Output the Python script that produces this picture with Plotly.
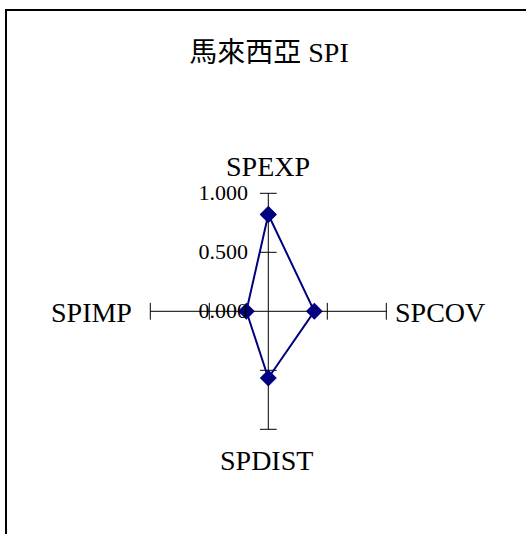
import plotly.graph_objects as go

categories = ["SPEXP", "SPCOV", "SPDIST", "SPIMP"]
values = [0.82, 0.39, 0.565, 0.186]
tick_values = [0.5, 1.0]
tick_labels = ["0.000", "0.500", "1.000"]
title_text = "馬來西亞 SPI"

W, H = 526, 534
cx, cy, R = 268.3, 311.3, 118.0

serif = "Liberation Serif, Times New Roman, Noto Sans CJK TC, serif"

fig = go.Figure()

# tick crosses on each spoke
tick_r, tick_theta, tick_sym = [], [], []
for c in categories:
    for t in tick_values:
        tick_r.append(t)
        tick_theta.append(c)
        tick_sym.append("line-ew" if c in ("SPEXP", "SPDIST") else "line-ns")
fig.add_trace(go.Scatterpolar(
    r=tick_r, theta=tick_theta, mode="markers",
    marker=dict(symbol=tick_sym, size=12, color="black",
                line=dict(width=1, color="black")),
    hoverinfo="skip", showlegend=False))

fig.add_trace(go.Scatterpolar(
    r=values + values[:1], theta=categories + categories[:1],
    mode="lines+markers",
    line=dict(color="#000080", width=2),
    marker=dict(symbol="diamond", size=13, color="#000080"),
    showlegend=False))

# category labels placed around the chart
label_pos = {"SPEXP": (268, 166, "center"), "SPCOV": (393, 312, "left"),
             "SPDIST": (266, 460, "center"), "SPIMP": (134, 312, "right")}
annotations = []
for c in categories:
    px, py, anc = label_pos[c]
    annotations.append(dict(text=c, x=px / W, y=1 - py / H, xref="paper", yref="paper",
                            xanchor=anc, yanchor="middle", showarrow=False,
                            font=dict(family=serif, size=28, color="black")))

fig.update_layout(
    width=W, height=H,
    margin=dict(l=0, r=0, t=0, b=0),
    paper_bgcolor="white",
    title=dict(text=title_text, x=269 / W, y=1 - 52 / H,
               xanchor="center", yanchor="middle",
               font=dict(family=serif, size=28, color="black")),
    polar=dict(
        domain=dict(x=[(cx - R) / W, (cx + R) / W],
                    y=[(H - cy - R) / H, (H - cy + R) / H]),
        bgcolor="white",
        radialaxis=dict(range=[0, 1], tickvals=[0, 0.5, 1.0], ticktext=tick_labels,
                        angle=90, tickangle=90, side="counterclockwise",
                        showline=False, showgrid=False,
                        ticks="outside", ticklen=12, tickcolor="rgba(0,0,0,0)",
                        tickfont=dict(family=serif, size=22, color="black")),
        angularaxis=dict(type="category", categoryarray=categories,
                         rotation=90, direction="clockwise",
                         showline=False, showgrid=True, gridcolor="black",
                         gridwidth=1, ticks="", showticklabels=False),
    ),
    annotations=annotations,
    shapes=[
        dict(type="rect", xref="paper", yref="paper",
             x0=6 / W, x1=1.1, y0=-0.1, y1=1 - 10 / H,
             line=dict(color="black", width=2), layer="above"),
    ],
)

fig.write_html("out.html", config={"displayModeBar": False},
               post_script="document.body.style.margin='0';")
